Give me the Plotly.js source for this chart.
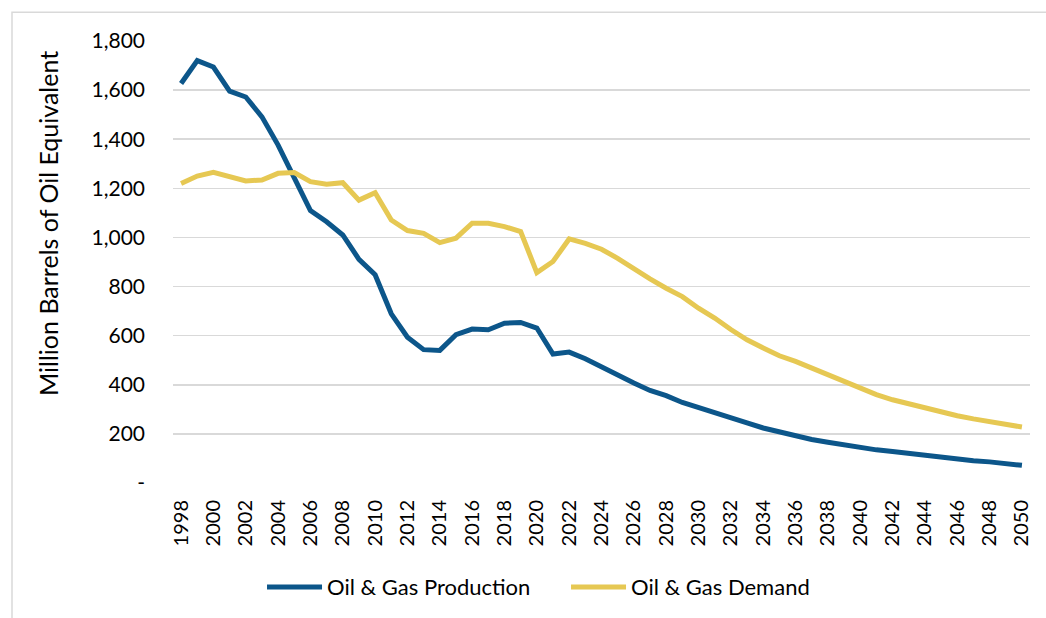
<!DOCTYPE html>
<html>
<head>
<meta charset="utf-8">
<script src="https://cdn.plot.ly/plotly-3.0.1.min.js"></script>
<style>html,body{margin:0;padding:0;background:#fff;}#chart{width:1046px;height:618px;}</style>
</head>
<body>
<div id="chart"></div>
<script>
const years = [1998,1999,2000,2001,2002,2003,2004,2005,2006,2007,2008,2009,2010,2011,2012,2013,2014,2015,2016,2017,2018,2019,2020,2021,2022,2023,2024,2025,2026,2027,2028,2029,2030,2031,2032,2033,2034,2035,2036,2037,2038,2039,2040,2041,2042,2043,2044,2045,2046,2047,2048,2049,2050];
const production = [1627,1720,1694,1596,1572,1491,1376,1242,1109,1064,1010,911,848,689,594,543,540,604,627,624,651,654,631,525,533,506,472,437,407,377,356,328,306,285,265,245,224,207,190,177,166,154,143,135,128,120,112,105,100,91,86,79,72];
const demand = [1220,1250,1265,1247,1230,1234,1261,1264,1227,1217,1223,1152,1182,1071,1028,1017,979,997,1058,1058,1044,1024,857,902,994,976,952,915,872,831,793,759,712,672,625,583,550,518,495,468,444,414,387,360,339,322,303,288,274,261,251,241,228];
const yTickVals = [0,200,400,600,800,1000,1200,1400,1600,1800];
const yTickText = ['-','200','400','600','800','1,000','1,200','1,400','1,600','1,800'];
const seriesNames = ['Oil & Gas Production','Oil & Gas Demand'];
const yTitle = 'Million Barrels of Oil Equivalent';

const FONT = 'Lato, "Noto Sans", sans-serif';
const L = 173, R = 16, T = 40.7, B = 134.5;
const W = 1046, H = 618;
const pw = W - L - R, ph = H - T - B;
const px = v => (v - L) / pw;
const py = v => (H - B - v) / ph;

const traces = [
  {x: years, y: production, name: seriesNames[0], type: 'scatter', mode: 'lines',
   line: {color: '#0C568A', width: 5}},
  {x: years, y: demand, name: seriesNames[1], type: 'scatter', mode: 'lines',
   line: {color: '#E6C853', width: 5}}
];

const layout = {
  width: W, height: H,
  margin: {l: L, r: R, t: T, b: B},
  paper_bgcolor: '#fff', plot_bgcolor: '#fff',
  font: {family: FONT, size: 20, color: '#000'},
  showlegend: true,
  legend: {orientation: 'h', xref: 'container', yref: 'container', x: 0.2505, xanchor: 'left',
           y: 0.05, yanchor: 'middle', font: {family: FONT, size: 22, color: '#000'},
           itemwidth: 55, tracegroupgap: 0, entrywidth: 234, entrywidthmode: 'pixels'},
  xaxis: {range: [1997.5, 2050.5], tickmode: 'linear', tick0: 1998, dtick: 2, tickangle: -90,
          showgrid: false, zeroline: false, showline: false, ticks: '', ticklabelstandoff: 12,
          tickfont: {family: FONT, size: 20, color: '#000'}},
  yaxis: {range: [0, 1800], tickvals: yTickVals, ticktext: yTickText, showgrid: true,
          gridcolor: '#d9d9d9', gridwidth: 1.5, zeroline: false, showline: false, ticks: '',
          ticklabelstandoff: 27, tickfont: {family: FONT, size: 21, color: '#000'}},
  shapes: [
    {type: 'rect', xref: 'paper', yref: 'paper', x0: px(12), x1: px(1060), y0: py(640), y1: py(12),
     line: {color: '#d9d9d9', width: 1.5}, fillcolor: 'rgba(0,0,0,0)', layer: 'below'}
  ],
  annotations: [
    {text: yTitle, xref: 'paper', yref: 'paper', x: px(48), y: py(224), textangle: -90,
     showarrow: false, xanchor: 'center', yanchor: 'middle', font: {family: FONT, size: 25, color: '#000'}}
  ]
};

Plotly.newPlot('chart', traces, layout, {displayModeBar: false, staticPlot: true});
</script>
</body>
</html>
